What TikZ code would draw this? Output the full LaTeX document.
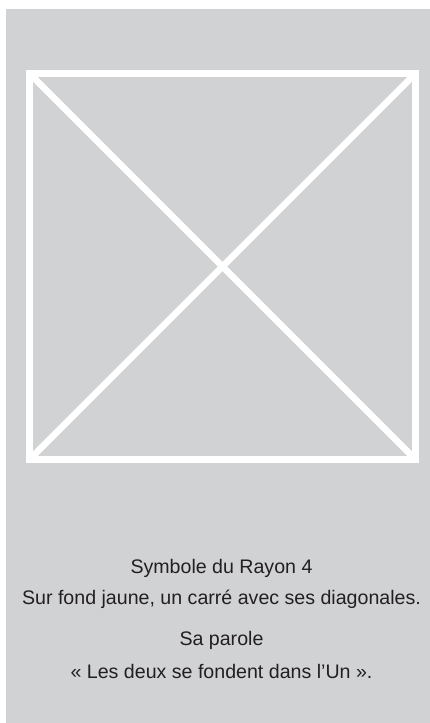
\documentclass[tikz,border=0pt]{standalone}
\usepackage{fontspec}
\setmainfont{Liberation Sans}
\usepackage{xcolor}
\usepackage{tikz}
\definecolor{panel}{HTML}{D1D2D4}
\definecolor{ink}{HTML}{231F20}
\tikzset{fig/.style={x=1pt,y=-1pt,line join=miter},
  sym/.style={draw=white,line width=6.5pt,minimum width=386pt,minimum height=386pt,outer sep=0pt,inner sep=0pt},
  legend/.style={anchor=base,font=\fontsize{19.6}{23}\selectfont,text=ink,inner sep=0pt}}

\begin{document}
\begin{tikzpicture}[fig]
  \useasboundingbox(0,0)rectangle(430,723);
  \fill[panel](6,9)rectangle(430,723);
  \node[sym](sq)at(222.5,266.5){};
  \draw[white,line width=6.5pt](sq.north west)--(sq.south east);
  \draw[white,line width=6.5pt](sq.north east)--(sq.south west);
  \node[legend](t1)at(221.5,573){Symbole du Rayon 4};
  \node[legend](t2)at(221.5,604){Sur fond jaune, un carré avec ses diagonales.};
  \node[legend](t3)at(221.5,645){Sa parole};
  \node[legend](t4)at(221.5,678){«~Les deux se fondent dans l’Un~».};
\end{tikzpicture}
\end{document}
